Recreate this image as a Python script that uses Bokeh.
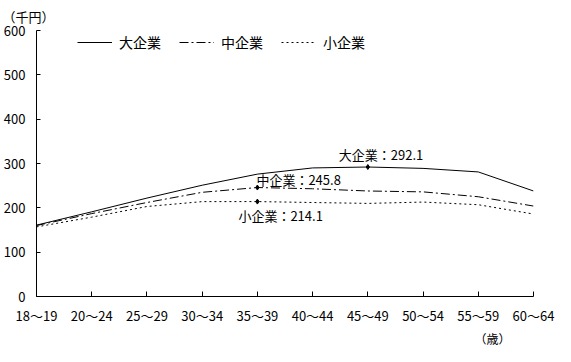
from bokeh.plotting import figure
from bokeh.models import Range1d, FixedTicker, Legend, LegendItem, Title, ColumnDataSource
from bokeh.core.properties import value
from bokeh.embed import file_html
from bokeh.resources import INLINE

ages = ["18～19", "20～24", "25～29", "30～34", "35～39", "40～44", "45～49", "50～54", "55～59", "60～64"]
large = [161, 191, 222, 251, 276, 290, 292.1, 289, 281, 238]
medium = [160, 187, 212, 235, 245.8, 243, 238, 236, 225, 204]
small = [157, 179, 203, 214, 214.1, 212, 210, 213, 207, 186]
series_names = ["大企業", "中企業", "小企業"]
y_ticks = [0, 100, 200, 300, 400, 500, 600]
y_unit = "（千円）"
x_unit = "（歳）"

peak_large = 6
peak_medium = 4
peak_small = 4

JP = "Noto Sans CJK JP"
xs = list(range(len(ages)))

p = figure(width=560, height=346, output_backend="svg", toolbar_location=None,
           x_range=Range1d(0, len(ages) - 1), y_range=Range1d(0, 600),
           min_border_left=34, min_border_right=27, min_border_top=30, min_border_bottom=49)
p.outline_line_color = None
p.xgrid.visible = False
p.ygrid.visible = False
p.background_fill_color = "white"
p.border_fill_color = "white"

for ax in (p.xaxis[0], p.yaxis[0]):
    ax.axis_line_color = "black"
    ax.major_tick_line_color = "black"
    ax.major_tick_out = 0
    ax.minor_tick_line_color = None
    ax.major_label_text_font = JP
    ax.major_label_text_font_size = "13px"
    ax.major_label_text_color = "black"

p.xaxis.major_tick_in = 5
p.yaxis.major_tick_in = 4
p.xaxis.ticker = FixedTicker(ticks=xs)
p.xaxis.major_label_overrides = {i: a for i, a in enumerate(ages)}
p.xaxis.major_label_standoff = 9
p.yaxis.ticker = FixedTicker(ticks=y_ticks)
p.yaxis.major_label_standoff = 11

r1 = p.line(xs, large, line_color="black", line_width=1)
r2 = p.line(xs, medium, line_color="black", line_width=1, line_dash="9 3 2 3")
r3 = p.line(xs, small, line_color="black", line_width=1, line_dash="2 3")

mk = ColumnDataSource(dict(x=[xs[peak_large], xs[peak_medium], xs[peak_small]],
                           y=[large[peak_large], medium[peak_medium], small[peak_small]]))
p.scatter("x", "y", source=mk, marker="diamond", size=5, color="black")

def fmt(name, v):
    return f"{name}：{v:.1f}"

common = dict(text_font=value(JP), text_font_size="13px", text_color="black", text_align="left")
p.text(x=[xs[peak_large]], y=[large[peak_large]], text=[fmt(series_names[0], large[peak_large])],
       text_baseline="bottom", x_offset=-29, y_offset=-3, **common)
p.text(x=[xs[peak_medium]], y=[medium[peak_medium]], text=[fmt(series_names[1], medium[peak_medium])],
       text_baseline="bottom", x_offset=-1, y_offset=1, **common)
p.text(x=[xs[peak_small]], y=[small[peak_small]], text=[fmt(series_names[2], small[peak_small])],
       text_baseline="top", x_offset=-19, y_offset=4, **common)

legend = Legend(items=[LegendItem(label=series_names[0], renderers=[r1]),
                       LegendItem(label=series_names[1], renderers=[r2]),
                       LegendItem(label=series_names[2], renderers=[r3])],
                orientation="horizontal", location=(41, 244),
                glyph_width=35, glyph_height=18, label_height=18, label_standoff=7,
                spacing=18, padding=0, margin=0,
                label_text_font=JP, label_text_font_size="14px", label_text_color="black",
                border_line_color=None, background_fill_alpha=0)
p.add_layout(legend, "center")

t_top = Title(text=y_unit, align="left", offset=-34, standoff=9,
              text_font=JP, text_font_size="13px", text_font_style="normal", text_color="black")
p.add_layout(t_top, "above")
t_bot = Title(text=x_unit, align="right", offset=23, standoff=0,
              text_font=JP, text_font_size="12px", text_font_style="normal", text_color="black")
p.add_layout(t_bot, "below")

open("out.html", "w").write(file_html(p, INLINE))
